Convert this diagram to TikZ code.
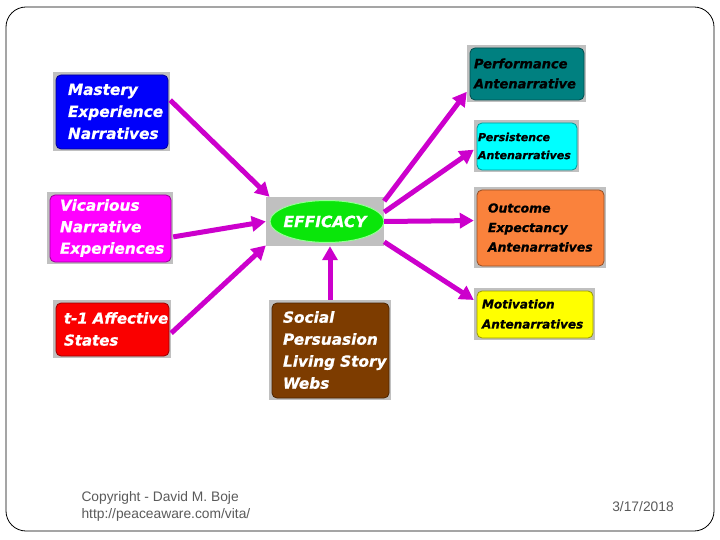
\documentclass[tikz,border=0pt]{standalone}
\usepackage{fontspec}
\setmainfont{Liberation Sans}
\newfontfamily\boxFont{DejaVu Sans}[BoldItalicFont={DejaVu Sans Bold Oblique},
    BoldItalicFeatures={FakeBold=0.8}]
\usetikzlibrary{arrows.meta}
\definecolor{backCol}{RGB}{192,192,192}
\definecolor{masteryCol}{RGB}{0,0,250}
\definecolor{vicarCol}{RGB}{255,0,255}
\definecolor{affectCol}{RGB}{250,0,0}
\definecolor{effCol}{RGB}{10,230,10}
\definecolor{effEdgeCol}{RGB}{150,255,150}
\definecolor{socialCol}{RGB}{125,60,0}
\definecolor{perfCol}{RGB}{0,128,128}
\definecolor{persCol}{RGB}{0,255,255}
\definecolor{outcomeCol}{RGB}{250,130,60}
\definecolor{motivCol}{RGB}{255,255,0}
\definecolor{arrowCol}{RGB}{204,0,204}
\definecolor{footCol}{RGB}{90,90,90}

\begin{document}
\begin{tikzpicture}[
    x=1pt, y=-1pt,
    >={Triangle[length=14pt,width=15pt]},
    panel/.style={rectangle, fill=backCol, inner xsep=2pt, inner ysep=0pt,
        align=left, text=white,
        path picture={\draw[draw=#1!60!black, fill=#1, rounded corners=5pt, line width=0.8pt]
            ([shift={(3pt,-3pt)}]path picture bounding box.north west) rectangle
            ([shift={(-2pt,2pt)}]path picture bounding box.south east);}},
    panelText/.style 2 args={font=\boxFont\bfseries\itshape\fontsize{#1}{#2}\selectfont},
    indent/.style={execute at begin node={\leftskip=#1\relax\hyphenpenalty=10000\exhyphenpenalty=10000\relax}},
    feedArrow/.style={->, line width=5pt, draw=arrowCol, fill=arrowCol}
]
    \useasboundingbox (0,0) rectangle (720,540);

    % ---------------- slide frame ----------------
    \draw[rounded corners=20pt, line width=0.8pt] (6,7) rectangle (714,531);

    % ---------------- sources (left) ----------------
    \node[panel=masteryCol, panelText={15.3}{22}, indent=13pt,
        minimum width=117pt, minimum height=79pt, text width=113pt] (mastery)
        at (111.5,111.5) {Mastery\\Experience\\Narratives};
    \node[panel=vicarCol, panelText={15.3}{21.5}, indent=11pt,
        minimum width=126pt, minimum height=72pt, text width=122pt] (vicarious)
        at (110,228) {Vicarious\\Narrative\\Experiences};
    \node[panel=affectCol, panelText={15}{22}, indent=9pt,
        minimum width=118pt, minimum height=58pt, text width=114pt] (affective)
        at (112,329) {t-1~Affective\\States};
    \node[panel=socialCol, panelText={15.3}{22}, indent=12pt,
        minimum width=122pt, minimum height=100pt, text width=118pt] (social)
        at (330,350) {Social\\Persuasion\\Living~Story\\Webs};

    % ---------------- centre ----------------
    \node[rectangle, fill=backCol, minimum width=118pt, minimum height=49pt,
        text=white, panelText={15.5}{18},
        path picture={\draw[draw=effEdgeCol, fill=effCol, line width=1pt]
            ([xshift=2pt]path picture bounding box.center) ellipse [x radius=57pt, y radius=21pt];}]
        (efficacy) at (325,221.5) {EFFICACY};

    % ---------------- outcomes (right) ----------------
    \node[panel=perfCol, panelText={13}{20}, indent=5pt, text=black,
        minimum width=119pt, minimum height=57pt, text width=115pt] (performance)
        at (526.5,73.5) {Performance\\Antenarrative};
    \node[panel=persCol, panelText={11}{18}, indent=2pt, text=black,
        minimum width=105pt, minimum height=52pt, text width=101pt] (persistence)
        at (526.5,146) {Persistence\\Antenarratives};
    \node[panel=outcomeCol, panelText={12.4}{19.5}, indent=12pt, text=black,
        minimum width=132pt, minimum height=81pt, text width=128pt] (outcome)
        at (540,227.5) {Outcome\\Expectancy\\Antenarratives};
    \node[panel=motivCol, panelText={12}{20}, indent=6pt, text=black,
        minimum width=121pt, minimum height=52pt, text width=117pt] (motivation)
        at (534.5,314) {Motivation\\Antenarratives};

    % ---------------- arrows ----------------
    \draw[feedArrow] (mastery.11) -- (efficacy.156);
    \draw[feedArrow] (vicarious.-8) -- (efficacy.west);
    \draw[feedArrow] (affective.-4) -- (efficacy.202);
    \draw[feedArrow] (social.north) -- (social.north |- efficacy.south);
    \draw[feedArrow] (efficacy.19) -- (performance.197);
    \draw[feedArrow] (efficacy.9) -- (persistence.184);
    \draw[feedArrow] (efficacy.east) -- (outcome.174);
    \draw[feedArrow] (efficacy.-19) -- (motivation.167);

    % ---------------- footer ----------------
    \node[anchor=west, align=left, text=footCol, font=\fontsize{13.8}{17}\selectfont]
        (copyright) at (78,506) {Copyright - David M. Boje\\http://peaceaware.com/vita/};
    \node[text=footCol, font=\fontsize{13.8}{15}\selectfont] (date) at (643,507) {3/17/2018};

\end{tikzpicture}
\end{document}
